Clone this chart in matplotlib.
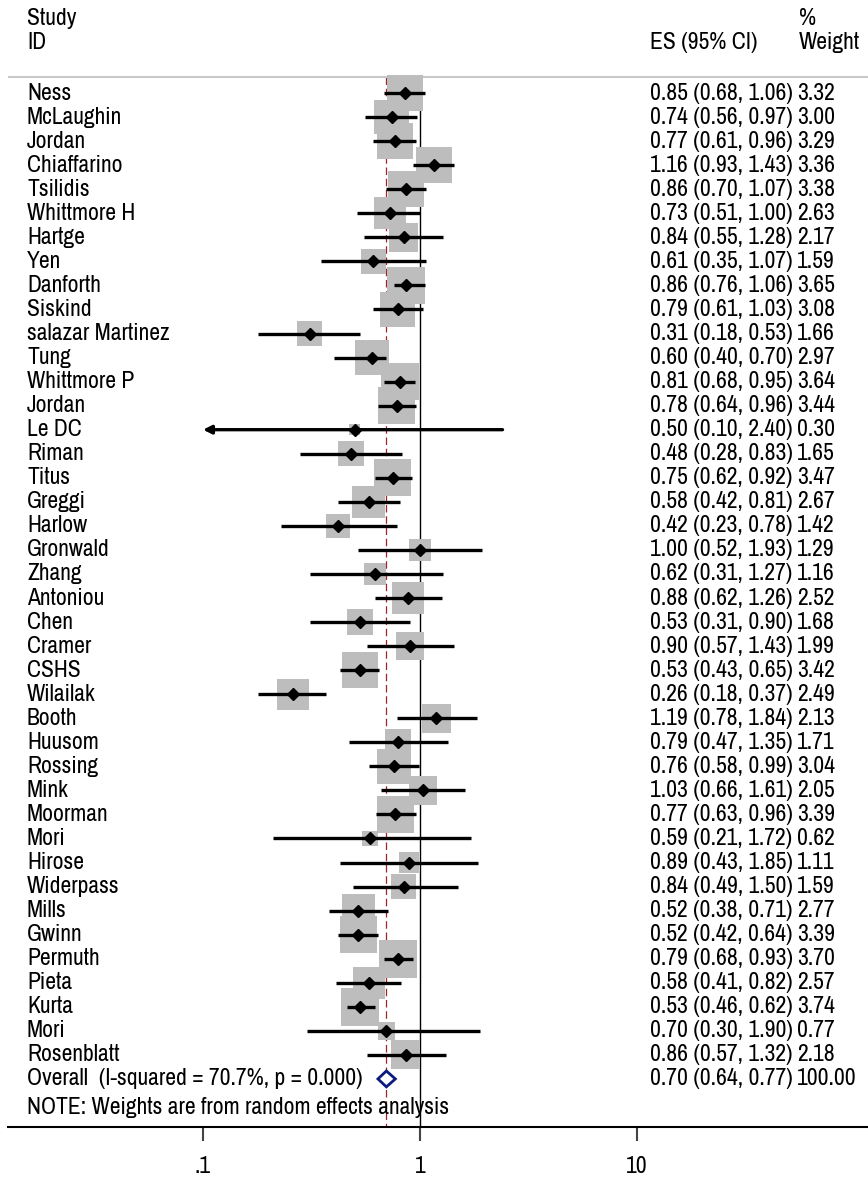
import numpy as np
import matplotlib
matplotlib.use("Agg")
import matplotlib.pyplot as plt
import matplotlib.transforms as mtransforms

plt.rcParams['font.family'] = ['Archivo Narrow', 'Roboto Condensed', 'DejaVu Sans']

studies = ["Ness", "McLaughin", "Jordan", "Chiaffarino", "Tsilidis", "Whittmore H",
           "Hartge", "Yen", "Danforth", "Siskind", "salazar Martinez", "Tung",
           "Whittmore P", "Jordan", "Le DC", "Riman", "Titus", "Greggi", "Harlow",
           "Gronwald", "Zhang", "Antoniou", "Chen", "Cramer", "CSHS", "Wilailak",
           "Booth", "Huusom", "Rossing", "Mink", "Moorman", "Mori", "Hirose",
           "Widerpass", "Mills", "Gwinn", "Permuth", "Pieta", "Kurta", "Mori",
           "Rosenblatt"]
es = [0.85, 0.74, 0.77, 1.16, 0.86, 0.73, 0.84, 0.61, 0.86, 0.79, 0.31, 0.60,
      0.81, 0.78, 0.50, 0.48, 0.75, 0.58, 0.42, 1.00, 0.62, 0.88, 0.53, 0.90,
      0.53, 0.26, 1.19, 0.79, 0.76, 1.03, 0.77, 0.59, 0.89, 0.84, 0.52, 0.52,
      0.79, 0.58, 0.53, 0.70, 0.86]
lo = [0.68, 0.56, 0.61, 0.93, 0.70, 0.51, 0.55, 0.35, 0.76, 0.61, 0.18, 0.40,
      0.68, 0.64, 0.10, 0.28, 0.62, 0.42, 0.23, 0.52, 0.31, 0.62, 0.31, 0.57,
      0.43, 0.18, 0.78, 0.47, 0.58, 0.66, 0.63, 0.21, 0.43, 0.49, 0.38, 0.42,
      0.68, 0.41, 0.46, 0.30, 0.57]
hi = [1.06, 0.97, 0.96, 1.43, 1.07, 1.00, 1.28, 1.07, 1.06, 1.03, 0.53, 0.70,
      0.95, 0.96, 2.40, 0.83, 0.92, 0.81, 0.78, 1.93, 1.27, 1.26, 0.90, 1.43,
      0.65, 0.37, 1.84, 1.35, 0.99, 1.61, 0.96, 1.72, 1.85, 1.50, 0.71, 0.64,
      0.93, 0.82, 0.62, 1.90, 1.32]
weights = [3.32, 3.00, 3.29, 3.36, 3.38, 2.63, 2.17, 1.59, 3.65, 3.08, 1.66, 2.97,
           3.64, 3.44, 0.30, 1.65, 3.47, 2.67, 1.42, 1.29, 1.16, 2.52, 1.68, 1.99,
           3.42, 2.49, 2.13, 1.71, 3.04, 2.05, 3.39, 0.62, 1.11, 1.59, 2.77, 3.39,
           3.70, 2.57, 3.74, 0.77, 2.18]
overall_es, overall_lo, overall_hi = 0.70, 0.64, 0.77
overall_label = "Overall  (I-squared = 70.7%, p = 0.000)"
xticks = [0.1, 1, 10]
xticklabels = [".1", "1", "10"]

W, H = 868, 1178
fig = plt.figure(figsize=(W / 100, H / 100), dpi=100)
ax = fig.add_axes([8 / W, 1 - 1127 / H, 860 / W, 1127 / H])
ax.set_xscale('log')
ax.set_xlim(10 ** -1.8986, 10 ** 2.0645)
ax.set_ylim(43.0, -3.87)

n = len(studies)
rows = np.arange(n)
overall_row = n
fs = 17

# reference lines
top = -0.67
ax.plot([1, 1], [top, 43.0], color='black', lw=1.0, zorder=1)
ax.plot([overall_es, overall_es], [top, 43.0], color='#a0232a', lw=0.9,
        dashes=(6, 3), zorder=1)
ax.axhline(top, color='#c8c8c8', lw=1.5, zorder=1)

# weight boxes (square, side ~ sqrt(weight))
side_px = 19.8 * np.sqrt(np.array(weights))
side_pt = side_px * 72 / 100
ax.scatter(es, rows, s=side_pt ** 2, marker='s', color='#bdbdbd',
           edgecolors='none', zorder=2)

# confidence intervals
xmin_axis = 0.1
for i in range(n):
    if lo[i] <= xmin_axis:
        ax.annotate('', xy=(lo[i], rows[i]), xytext=(hi[i], rows[i]),
                    arrowprops=dict(arrowstyle='-|>', color='black', lw=2.4,
                                    mutation_scale=12, shrinkA=0, shrinkB=0),
                    zorder=3)
    else:
        ax.plot([lo[i], hi[i]], [rows[i], rows[i]], color='black', lw=2.4,
                solid_capstyle='butt', zorder=3)
ax.plot(es, rows, 'D', color='black', markersize=6, zorder=4)

# overall diamond
dh = 0.33
ax.fill([overall_lo, overall_es, overall_hi, overall_es, overall_lo],
        [overall_row, overall_row - dh, overall_row, overall_row + dh, overall_row],
        facecolor='white', edgecolor='#0d1a80', lw=2.0, zorder=4)

# text columns
trans = mtransforms.blended_transform_factory(ax.transAxes, ax.transData)
x_name = (27 - 8) / 860
x_es = (650 - 8) / 860
x_w = (797 - 8) / 860
x_wh = (799 - 8) / 860
for i in range(n):
    ax.text(x_name, rows[i], studies[i], transform=trans, va='center',
            ha='left', fontsize=fs)
    ax.text(x_es, rows[i], "%.2f (%.2f, %.2f)" % (es[i], lo[i], hi[i]),
            transform=trans, va='center', ha='left', fontsize=fs)
    ax.text(x_w, rows[i], "%.2f" % weights[i], transform=trans, va='center',
            ha='left', fontsize=fs)
ax.text(x_name, overall_row, overall_label, transform=trans, va='center',
        ha='left', fontsize=fs)
ax.text(x_es, overall_row, "%.2f (%.2f, %.2f)" % (overall_es, overall_lo, overall_hi),
        transform=trans, va='center', ha='left', fontsize=fs)
ax.text(x_w, overall_row, "100.00", transform=trans, va='center', ha='left',
        fontsize=fs)
ax.text(x_name, 42.2, "NOTE: Weights are from random effects analysis",
        transform=trans, va='center', ha='left', fontsize=fs)

# headers
ax.text(x_name, -3.12, "Study", transform=trans, va='center', ha='left', fontsize=fs)
ax.text(x_name, -2.12, "ID", transform=trans, va='center', ha='left', fontsize=fs)
ax.text(x_es, -2.12, "ES (95% CI)", transform=trans, va='center', ha='left', fontsize=fs)
ax.text(x_wh, -3.12, "%", transform=trans, va='center', ha='left', fontsize=fs)
ax.text(x_wh, -2.12, "Weight", transform=trans, va='center', ha='left', fontsize=fs)

# axis
for s in ['top', 'right', 'left']:
    ax.spines[s].set_visible(False)
ax.spines['bottom'].set_linewidth(1.5)
ax.set_yticks([])
ax.set_xticks(xticks)
ax.set_xticklabels(xticklabels)
ax.minorticks_off()
ax.tick_params(axis='x', which='major', length=10, width=1.5, color='#444444',
               labelsize=fs, pad=11)

fig.savefig("out.png", dpi=100)
